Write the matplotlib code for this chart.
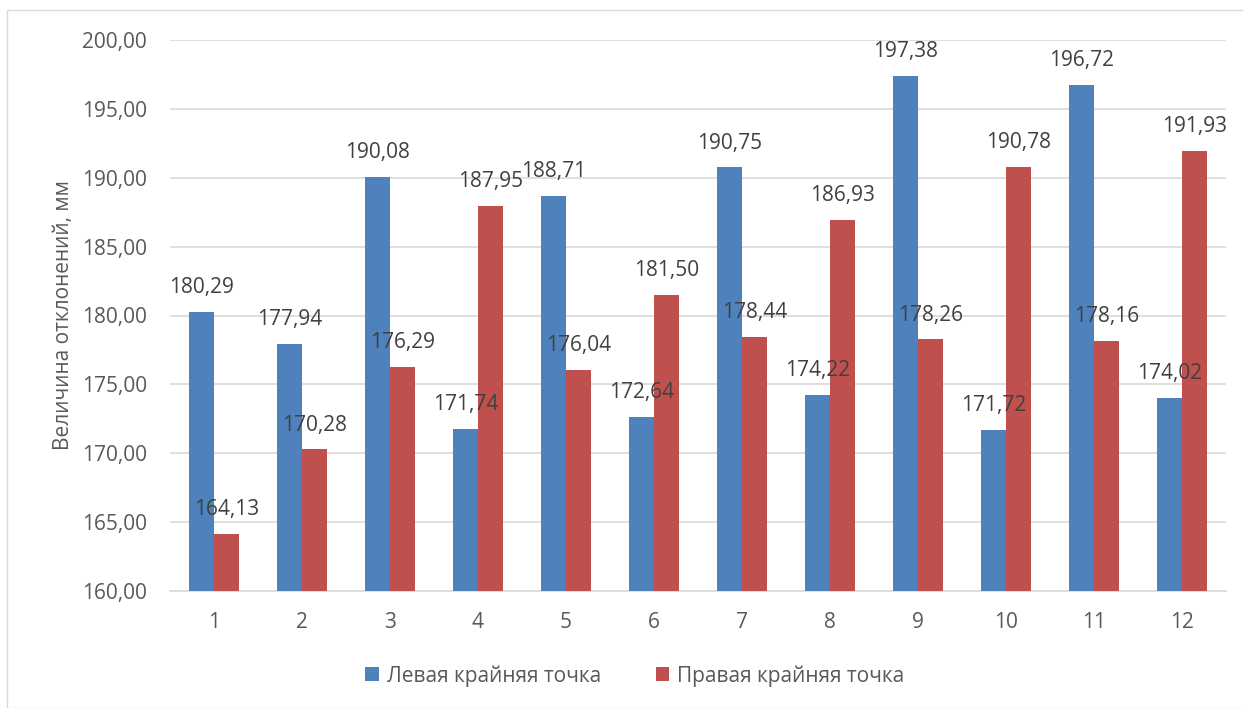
import matplotlib
matplotlib.use("Agg")
import matplotlib.pyplot as plt
from matplotlib.patches import Rectangle
import numpy as np

categories = ["1", "2", "3", "4", "5", "6", "7", "8", "9", "10", "11", "12"]
left_values = [180.29, 177.94, 190.08, 171.74, 188.71, 172.64, 190.75, 174.22, 197.38, 171.72, 196.72, 174.02]
right_values = [164.13, 170.28, 176.29, 187.95, 176.04, 181.50, 178.44, 186.93, 178.26, 190.78, 178.16, 191.93]
series_names = ["Левая крайняя точка", "Правая крайняя точка"]
yticks = [160, 165, 170, 175, 180, 185, 190, 195, 200]
ylabel = "Величина отклонений, мм"

plt.rcParams['font.family'] = ['Open Sans', 'DejaVu Sans']

blue = "#4f81bd"
red = "#c0504d"
label_color = "#404040"
tick_color = "#595959"
fs = 15

fig = plt.figure(figsize=(12.43, 7.08), dpi=100)
# outer chart border
fig.patches.append(Rectangle((7/1243, 0.0), 1.2, 1 - 10/708, transform=fig.transFigure,
                             fill=False, edgecolor="#d9d9d9", linewidth=1.0))
ax = fig.add_axes([170/1243, 1 - 591/708, (1226 - 170)/1243, (591 - 40)/708])

x = np.arange(len(categories))
w = 0.284
ax.bar(x - w/2, [v - 160 for v in left_values], w, bottom=160, color=blue, label=series_names[0], zorder=3)
ax.bar(x + w/2, [v - 160 for v in right_values], w, bottom=160, color=red, label=series_names[1], zorder=3)

def fmt(v):
    return f"{v:.2f}".replace(".", ",")

for xs, vals in ((x - w/2, left_values), (x + w/2, right_values)):
    for xi, v in zip(xs, vals):
        ax.annotate(fmt(v), (xi, v), xytext=(0, 17.5), textcoords="offset points",
                    ha="center", va="center", fontsize=fs, color=label_color, zorder=4)

ax.set_xlim(-0.5, len(categories) - 0.5)
ax.set_ylim(160, 200)
ax.set_yticks(yticks)
ax.set_yticklabels([fmt(t) for t in yticks])
ax.set_xticks(x)
ax.set_xticklabels(categories)
ax.tick_params(axis="both", length=0, labelsize=fs, labelcolor=tick_color)
ax.tick_params(axis="y", pad=16.5)
ax.tick_params(axis="x", pad=15)
ax.grid(axis="y", color="#d9d9d9", linewidth=1.2, zorder=0)
for s in ["top", "right", "left"]:
    ax.spines[s].set_visible(False)
ax.spines["bottom"].set_color("#d9d9d9")
ax.spines["bottom"].set_linewidth(1.2)
ax.set_ylabel(ylabel, fontsize=fs, color=tick_color, labelpad=6)

leg = fig.legend(loc="center", bbox_to_anchor=(635/1243, 1 - 676/708), ncol=2, frameon=False,
                 fontsize=fs, handlelength=0.65, handleheight=0.65, columnspacing=2.6, handletextpad=0.4)
for t in leg.get_texts():
    t.set_color(tick_color)

fig.savefig("out.png", dpi=100)
